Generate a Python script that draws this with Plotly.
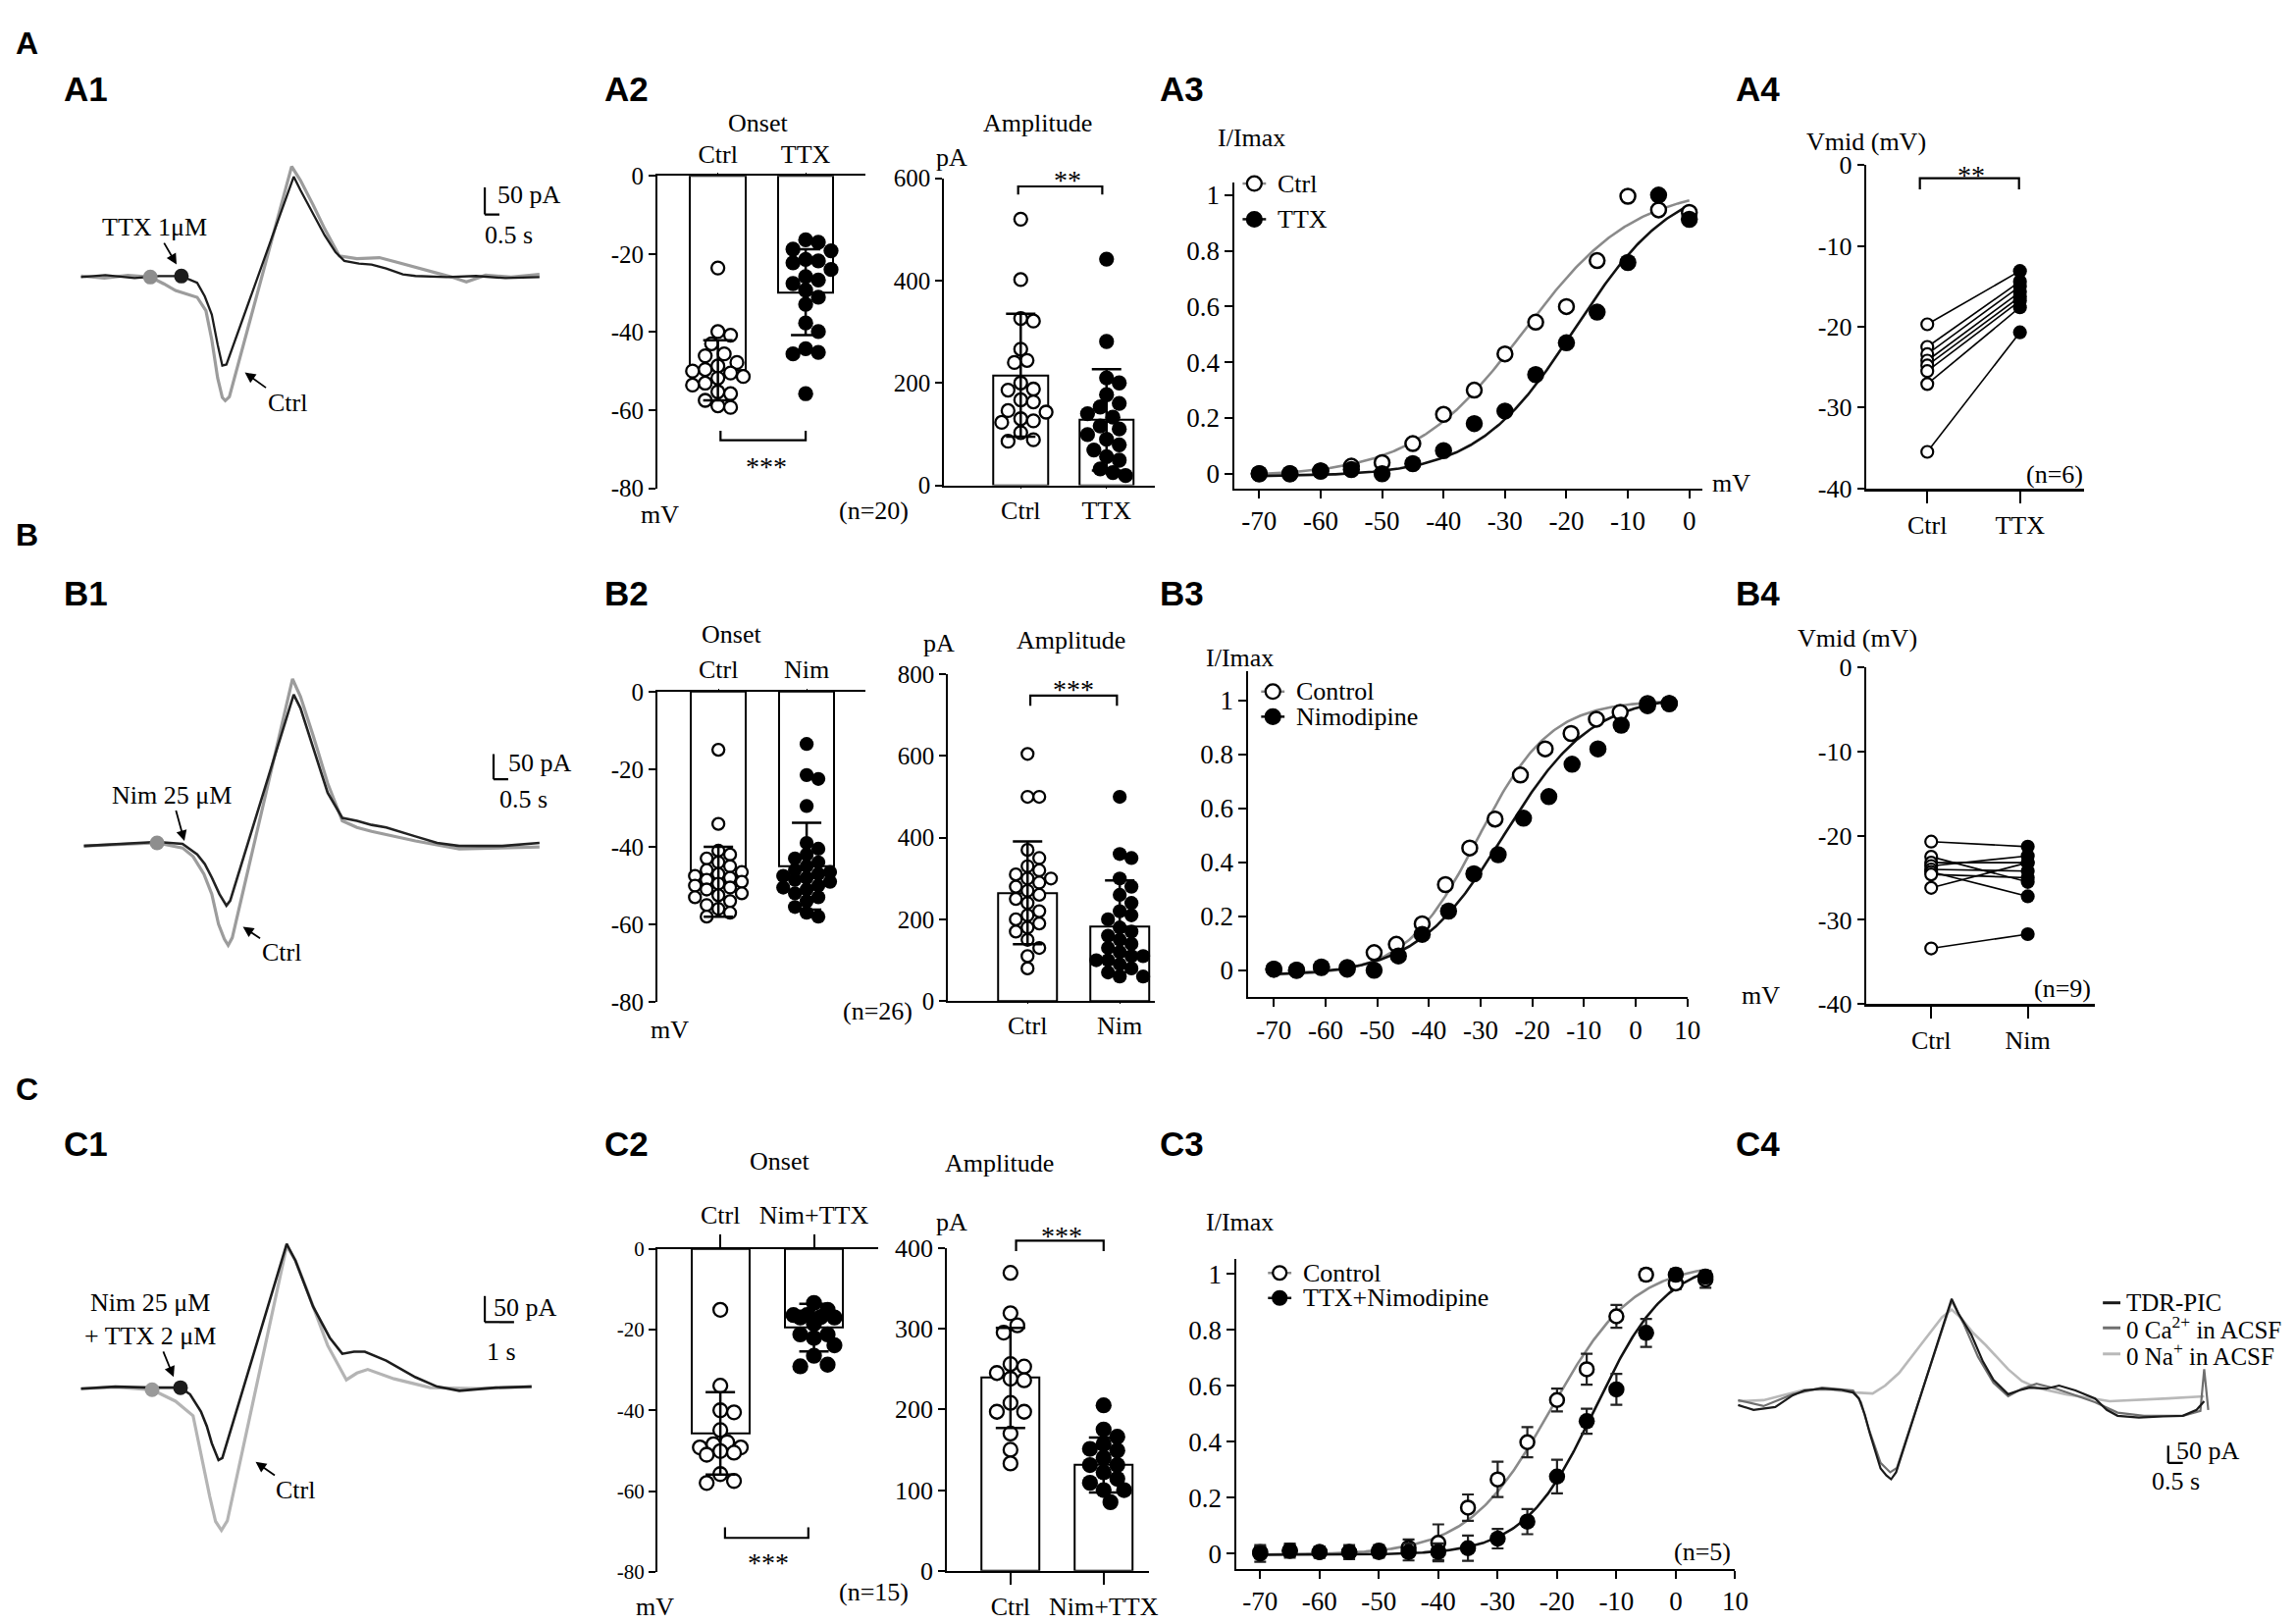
import numpy as np
import plotly.graph_objects as go

W, H = 2340, 1654
SERIF = "Liberation Serif, Times New Roman, serif"
SANS = "Liberation Sans, Arial, sans-serif"

# ======================= DATA =======================
# ---- A1: example traces (time s, current pA) ----
a1_ctrl_t = [0, 0.8, 1.6, 2.37, 2.83, 3.23, 3.97, 4.27, 4.47, 4.67, 4.83, 4.93, 5.07, 7.2, 7.5, 7.93,
             8.33, 8.83, 9.43, 10.2, 10.83, 11.83, 12.67, 13.17, 13.83, 14.7, 15.67]
a1_ctrl_i = [2, -2, 3, 0, -12.5, -25, -37.5, -62.5, -116, -187, -223, -229, -222, 205, 179, 134,
             89, 39, 34, 36, 27, 12.5, 0, -9, 3.6, 0, 5]
a1_ttx_t = [0, 0.83, 1.83, 2.67, 3.43, 3.97, 4.23, 4.47, 4.67, 4.83, 4.97, 7.27, 7.5, 7.93, 8.33,
            8.7, 9.0, 9.5, 9.93, 10.43, 11.0, 11.43, 12.5, 13.5, 14.5, 15.67]
a1_ttx_i = [0, 3.6, -1.8, 1.8, 1.8, -10.7, -35.7, -69.6, -125, -164, -162, 186, 161, 116, 77,
            46, 30, 25, 23, 16, 5, 2, 0, 2, -2, 0]
a1_ctrl_onset = [2.37, 0]
a1_ttx_onset = [3.43, 1.8]

# ---- A2: onset (mV) and amplitude (pA) ----
a2_groups = ["Ctrl", "TTX"]
a2_onset_ctrl = [-23.6, -39.9, -40.8, -43.0, -45.6, -46.1, -47.8, -48.7, -49.6, -50.0, -50.5, -51.4,
                 -51.8, -53.1, -53.6, -55.3, -55.8, -57.5, -58.9, -59.3]
a2_onset_ttx = [-16.4, -17.0, -18.8, -19.2, -21.4, -21.8, -22.3, -24.0, -25.8, -26.7, -27.6, -29.3,
                -31.1, -32.9, -37.7, -39.9, -44.3, -45.2, -45.6, -55.8]
a2_onset_mean = [-49.8, -29.8]
a2_onset_sd = [7.7, 11.0]
a2_amp_ctrl = [520, 402, 326, 321, 266, 244, 240, 200, 188, 186, 167, 163, 146, 143, 130, 126, 123,
               103, 89, 86]
a2_amp_ttx = [442, 281, 210, 200, 177, 160, 153, 140, 133, 116, 110, 99, 90, 79, 69, 56, 49, 32, 25, 19]
a2_amp_mean = [215, 128]
a2_amp_sd = [120, 99]

# ---- A3: activation (I/Imax vs mV) ----
a3_v = [-70, -65, -60, -55, -50, -45, -40, -35, -30, -25, -20, -15, -10, -5, 0]
a3_ctrl = [0.0, 0.0, 0.01, 0.027, 0.04, 0.108, 0.213, 0.30, 0.43, 0.544, 0.60, 0.765, 0.996, 0.947, 0.938]
a3_ttx = [0.0, 0.0, 0.01, 0.015, 0.0, 0.036, 0.083, 0.18, 0.225, 0.356, 0.47, 0.58, 0.758, 1.0, 0.913]
a3_fit_ctrl = [-27.0, 9.0, -0.01, 1.03]   # Vhalf, k, bottom, top
a3_fit_ttx = [-18.5, 8.0, -0.01, 1.06]

# ---- A4: Vmid pairs ----
a4_groups = ["Ctrl", "TTX"]
a4_ctrl = [-19.7, -22.5, -23.4, -24.2, -24.8, -25.5, -27.1, -35.5]
a4_ttx = [-13.1, -14.4, -15.0, -15.7, -16.3, -16.8, -17.6, -20.7]

# ---- B1 ----
b1_ctrl_t = [0, 1.2, 2.5, 3.37, 3.73, 4.1, 4.37, 4.6, 4.8, 4.93, 5.07, 7.13, 7.4, 7.83, 8.33, 8.83,
             9.33, 9.83, 10.57, 11.33, 12.83, 14.07, 15.57]
b1_ctrl_i = [-4, -1, 2, -8, -25, -60, -100, -160, -190, -202, -187, 329, 294, 217, 121, 46,
             33, 25, 15, 6, -10, -8, -6]
b1_nim_t = [0, 0.73, 1.73, 2.5, 3.37, 3.87, 4.13, 4.37, 4.63, 4.87, 5.0, 7.17, 7.4, 7.83, 8.33, 8.83,
            9.33, 9.83, 10.33, 11.33, 12.07, 12.83, 14.3, 15.57]
b1_nim_i = [-4, -2, 2, 4, 0, -21, -40, -67, -100, -123, -113, 298, 271, 192, 102, 52,
            46, 38, 33, 15, 2, -4, -4, 2]
b1_ctrl_onset = [2.5, 2]

# ---- B2 ----
b2_groups = ["Ctrl", "Nim"]
b2_onset_ctrl = [-15.0, -34.1, -41, -42, -43, -44, -45, -46, -46.5, -47, -47.5, -48, -48.5, -49, -49.5,
                 -50, -50.5, -51, -52, -52.5, -53, -54, -55, -56, -57, -58]
b2_onset_nim = [-13.5, -21.5, -22.5, -29.5, -39, -40.5, -42, -43, -44, -45, -46, -46.5, -47, -47.5, -48,
                -48.5, -49, -50, -50.5, -51, -52, -53, -54, -55.5, -57, -58]
b2_onset_mean = [-49.0, -45.0]
b2_onset_sd = [9.0, 11.2]
b2_amp_ctrl = [605, 500, 500, 370, 350, 330, 320, 310, 300, 300, 290, 280, 270, 260, 250, 240, 220, 210,
               200, 190, 180, 170, 150, 130, 110, 80]
b2_amp_nim = [500, 360, 350, 300, 280, 260, 240, 220, 210, 200, 180, 170, 160, 150, 140, 130, 120, 110,
              110, 100, 100, 90, 80, 70, 60, 60]
b2_amp_mean = [265, 183]
b2_amp_sd = [126, 112]

# ---- B3 ----
b3_ctrl_v = [-70, -65.6, -60.8, -55.8, -50.6, -46.3, -41.3, -36.8, -32.1, -27.2, -22.3, -17.5, -12.5,
             -7.6, -3.0, 2.3, 6.5]
b3_ctrl = [0.004, 0.0, 0.01, 0.01, 0.065, 0.096, 0.172, 0.317, 0.453, 0.56, 0.723, 0.82, 0.877, 0.93,
           0.955, 0.988, 0.988]
b3_nim_v = [-70, -65.6, -60.8, -55.8, -50.6, -45.9, -41.3, -36.2, -31.3, -26.6, -21.7, -16.8, -12.3,
            -7.3, -2.8, 2.3, 6.5]
b3_nim = [0.004, 0.0, 0.012, 0.004, 0.0, 0.053, 0.133, 0.219, 0.357, 0.428, 0.563, 0.643, 0.763, 0.82,
          0.908, 0.98, 0.988]
b3_fit_ctrl = [-30.5, 7.0, -0.02, 1.0]
b3_fit_nim = [-25.5, 8.5, -0.02, 1.02]

# ---- B4 ----
b4_groups = ["Ctrl", "Nim"]
b4_ctrl = [-20.7, -22.5, -23.2, -23.6, -24.0, -24.3, -24.6, -26.2, -33.4]
b4_nim = [-21.3, -25.5, -23.2, -22.4, -24.2, -27.2, -25.0, -23.2, -31.7]

# ---- C1 ----
c1_ctrl_t = [0, 1.2, 2.43, 3.23, 3.83, 4.2, 4.4, 4.6, 4.8, 5.0, 7.03, 7.33, 7.7, 8.43, 9.07, 9.43, 9.8,
             10.7, 11.93, 13.5, 15.4]
c1_ctrl_i = [-2, 1, -4, -26, -54, -156, -209, -257, -274, -256, 272, 244, 191, 81, 15, 28, 35,
             17, 0, -2, 2]
c1_nt_t = [0, 1.17, 2.43, 3.4, 3.73, 4.1, 4.3, 4.47, 4.7, 4.83, 7.03, 7.33, 7.93, 8.5, 8.93, 9.33, 9.7,
           10.43, 11.43, 12.17, 12.93, 14.17, 15.4]
c1_nt_i = [-2, 2, 0, 0, -13, -46, -74, -107, -139, -135, 276, 244, 156, 96, 65, 69, 69,
           52, 20, 2, -6, 0, 2]
c1_ctrl_onset = [2.43, -4]
c1_nt_onset = [3.4, 0]

# ---- C2 ----
c2_groups = ["Ctrl", "Nim+TTX"]
c2_onset_ctrl = [-15.1, -33.9, -40.0, -40.5, -44.9, -47.9, -48.4, -49.2, -49.2, -50.1, -50.5, -51.0,
                 -55.8, -57.5, -58.0]
c2_onset_nt = [-13.4, -15.1, -16.4, -16.4, -16.9, -17.0, -17.0, -18.6, -21.2, -21.2, -22.1, -23.9,
               -26.5, -28.7, -29.1]
c2_onset_mean = [-45.7, -19.5]
c2_onset_sd = [10.2, 5.9]
c2_amp_ctrl = [369, 319, 304, 295, 256, 253, 245, 238, 236, 208, 197, 197, 170, 150, 133]
c2_amp_nt = [205, 175, 166, 157, 151, 149, 140, 131, 131, 122, 114, 109, 100, 100, 85]
c2_amp_mean = [239, 131]
c2_amp_sd = [62, 34]

# ---- C3 ----
c3_v = [-70, -65, -60, -55, -50, -45, -40, -35, -30, -25, -20, -15, -10, -5, 0, 5]
c3_ctrl = [0.005, 0.01, 0.005, 0.005, 0.01, 0.02, 0.038, 0.164, 0.265, 0.398, 0.549, 0.659, 0.848,
           0.997, 0.966, 0.98]
c3_ctrl_err = [0.02, 0.02, 0.02, 0.02, 0.02, 0.03, 0.066, 0.047, 0.063, 0.054, 0.041, 0.055, 0.041,
               0.02, 0.02, 0.03]
c3_nt = [0.0, 0.01, 0.005, 0.005, 0.005, 0.005, 0.006, 0.019, 0.053, 0.114, 0.275, 0.473, 0.587, 0.789,
         0.997, 0.99]
c3_nt_err = [0.03, 0.025, 0.02, 0.025, 0.02, 0.03, 0.03, 0.045, 0.035, 0.045, 0.06, 0.045, 0.055, 0.05,
             0.02, 0.02]
c3_fit_ctrl = [-21.0, 7.0, -0.005, 1.04]
c3_fit_nt = [-13.5, 6.0, -0.005, 1.05]

# ---- C4: example traces ----
c4_pic_t = [0, 0.53, 1.27, 1.87, 2.27, 2.87, 3.5, 3.93, 4.13, 4.33, 4.5, 4.7, 4.87, 5.07, 5.23, 5.4,
            7.3, 7.53, 7.97, 8.37, 8.73, 9.23, 9.6, 9.97, 10.53, 10.97, 11.53, 12.2, 12.6, 12.97,
            13.7, 14.53, 15.2, 15.67, 15.93]
c4_pic_i = [0, -14, -6, 28, 42, 47, 44, 36, 19, -28, -81, -139, -183, -203, -214, -194,
            306, 264, 203, 125, 72, 31, 42, 50, 47, 56, 42, 19, -14, -31,
            -36, -33, -31, -14, 11]
c4_ca_t = [0, 0.87, 1.87, 2.87, 3.93, 4.2, 4.47, 4.87, 5.2, 5.43, 7.3, 7.7, 8.2, 8.73, 9.23, 9.7, 10.2,
           10.87, 11.53, 12.2, 12.97, 13.87, 15.2, 15.8, 15.93, 16.07]
c4_ca_i = [14, -3, 31, 50, 42, 8, -69, -167, -194, -181, 300, 236, 139, 64, 25, 47, 61,
           47, 28, 8, -22, -31, -31, -17, 103, -14]
c4_na_t = [0, 0.87, 2.27, 3.2, 4.0, 4.6, 5.03, 5.5, 6.23, 6.97, 7.3, 7.63, 8.03, 8.47, 9.23, 9.7, 10.2,
           11.2, 12.7, 13.7, 14.7, 15.93]
c4_na_i = [11, 14, 44, 44, 36, 33, 56, 92, 172, 253, 275, 250, 208, 172, 103, 69, 50,
           31, 11, 14, 19, 25]
c4_names = ["TDR-PIC", "0 Ca<sup>2+</sup> in ACSF", "0 Na<sup>+</sup> in ACSF"]

# ======================= FIGURE =======================
fig = go.Figure()
shapes, anns = [], []


def dom_x(a, b):
    return [a / W, b / W]


def dom_y(top, bot):
    return [1 - bot / H, 1 - top / H]


def lin(v0, p0, v1, p1, pa, pb):
    s = (v1 - v0) / (p1 - p0)
    return [v0 + (pa - p0) * s, v0 + (pb - p0) * s]


def to_px(m, v):
    return m[1] + (v - m[0]) * (m[3] - m[1]) / (m[2] - m[0])


def tf(size):
    return dict(family=SERIF, size=size, color="black")


BASE = dict(showgrid=False, zeroline=False, showline=True, linecolor="black", linewidth=2,
            ticks="outside", ticklen=7, tickwidth=2, tickcolor="black", tickfont=tf(25))


def set_axes(n, xmap, xdom, ymap, ydom, xs=None, ys=None):
    s = "" if n == 1 else str(n)
    xa = dict(BASE)
    xa.update(domain=dom_x(*xdom), range=lin(*xmap, xdom[0], xdom[1]), anchor="y" + s)
    ya = dict(BASE)
    ya.update(domain=dom_y(*ydom), range=lin(*ymap, ydom[1], ydom[0]), anchor="x" + s)
    if xs:
        xa.update(xs)
    if ys:
        ya.update(ys)
    fig.update_layout(**{"xaxis" + s: xa, "yaxis" + s: ya})
    ppx = abs((xmap[3] - xmap[1]) / (xmap[2] - xmap[0]))
    ppy = abs((ymap[3] - ymap[1]) / (ymap[2] - ymap[0]))
    return dict(x="x" + s, y="y" + s, ppx=ppx, ppy=ppy, xm=xmap, ym=ymap)


def swarm(vals, ppy, d, step, maxoff):
    cands = [0.0]
    k = 1
    while k * step <= maxoff + 1e-9:
        cands += [k * step, -k * step]
        k += 1
    placed, offs = [], []
    for v in vals:
        y = v * ppy
        chosen = None
        for c in cands:
            if all((c - px) ** 2 + (y - py) ** 2 >= d * d for px, py in placed):
                chosen = c
                break
        if chosen is None:
            chosen = max(cands, key=lambda c: min((c - px) ** 2 + (y - py) ** 2 for px, py in placed))
        placed.append((chosen, y))
        offs.append(chosen)
    return offs


def marker(filled, size, lw=2.3):
    if filled:
        return dict(symbol="circle", size=size + lw, color="black", line=dict(width=0))
    return dict(symbol="circle", size=size, color="white", line=dict(color="black", width=lw))


def add_bars(ax, means, barw):
    fig.add_trace(go.Bar(x=list(range(len(means))), y=means, width=barw, xaxis=ax["x"], yaxis=ax["y"],
                         marker=dict(color="white", line=dict(color="black", width=2)),
                         showlegend=False, hoverinfo="skip"))


def add_dots(ax, xc, vals, filled, size, maxoff=26):
    offs = swarm(vals, ax["ppy"], size, size * 0.5, maxoff)
    fig.add_trace(go.Scatter(x=[xc + o / ax["ppx"] for o in offs], y=vals, mode="markers",
                             xaxis=ax["x"], yaxis=ax["y"], showlegend=False, cliponaxis=False,
                             marker=marker(filled, size)))


def add_err(ax, means, sds, cap=15):
    fig.add_trace(go.Scatter(x=list(range(len(means))), y=means, mode="markers", xaxis=ax["x"], yaxis=ax["y"],
                             marker=dict(size=1, color="black"), showlegend=False,
                             error_y=dict(type="data", array=sds, color="black", thickness=2.5, width=cap)))


def boltz(v, p):
    vh, k, lo, hi = p
    return lo + (hi - lo) / (1 + np.exp((vh - v) / k))


def txt(s, x, y, size=26, anchor="center", family=SERIF):
    anns.append(dict(text=s, x=x / W, y=1 - y / H, xref="paper", yref="paper", showarrow=False,
                     xanchor=anchor, yanchor="middle",
                     font=dict(family=family, size=size, color="black")))


def stars(s, x, y, size=28):
    txt(s, x, y + 0.26 * size, size)


def label_arrow(s, tx, ty, hx, hy, size=26):
    # text centred at (tx, ty) with an arrow pointing at (hx, hy)
    anns.append(dict(text=s, x=hx / W, y=1 - hy / H, xref="paper", yref="paper", showarrow=True,
                     ax=tx - hx, ay=ty - hy, axref="pixel", ayref="pixel", arrowhead=2,
                     arrowsize=1.2, arrowwidth=1.8, arrowcolor="black", standoff=0,
                     font=dict(family=SERIF, size=size, color="black")))


def bracket(ax, x0, x1, yend, ybar):
    X0, X1 = to_px(ax["xm"], x0) / W, to_px(ax["xm"], x1) / W
    YE, YB = 1 - to_px(ax["ym"], yend) / H, 1 - to_px(ax["ym"], ybar) / H
    shapes.append(dict(type="path", xref="paper", yref="paper",
                       path=f"M{X0},{YE} L{X0},{YB} L{X1},{YB} L{X1},{YE}",
                       line=dict(color="black", width=2.2)))


def scalebar(ax, t0, i0, dt, di):
    ln = dict(color="black", width=2.2)
    shapes.append(dict(type="line", xref=ax["x"], yref=ax["y"], x0=t0, x1=t0, y0=i0, y1=i0 + di, line=ln))
    shapes.append(dict(type="line", xref=ax["x"], yref=ax["y"], x0=t0, x1=t0 + dt, y0=i0, y1=i0, line=ln))


def leg_item(xc, yc, text, lcolor, filled, size=14, half=12, tsize=26, tx=22, lw=2.5):
    shapes.append(dict(type="line", xref="paper", yref="paper", x0=(xc - half) / W, x1=(xc + half) / W,
                       y0=1 - yc / H, y1=1 - yc / H, line=dict(color=lcolor, width=lw)))
    if filled is not None:
        r = size / 2
        shapes.append(dict(type="circle", xref="paper", yref="paper", x0=(xc - r) / W, x1=(xc + r) / W,
                           y0=1 - (yc + r) / H, y1=1 - (yc - r) / H,
                           fillcolor="black" if filled else "white", line=dict(color="black", width=2.3)))
    txt(text, xc + tx, yc, tsize, anchor="left")


def trace_line(ax, t, i, color, width):
    fig.add_trace(go.Scatter(x=t, y=i, mode="lines", xaxis=ax["x"], yaxis=ax["y"], showlegend=False,
                             line=dict(color=color, width=width), hoverinfo="skip"))


def onset_dot(ax, pt, color):
    fig.add_trace(go.Scatter(x=[pt[0]], y=[pt[1]], mode="markers", xaxis=ax["x"], yaxis=ax["y"],
                             showlegend=False, marker=dict(size=15, color=color)))


def pairs(ax, c, t, size=12):
    xs, ys = [], []
    for a, b in zip(c, t):
        xs += [0, 1, None]
        ys += [a, b, None]
    fig.add_trace(go.Scatter(x=xs, y=ys, mode="lines", xaxis=ax["x"], yaxis=ax["y"], showlegend=False,
                             line=dict(color="black", width=1.6)))
    fig.add_trace(go.Scatter(x=[0] * len(c), y=c, mode="markers", xaxis=ax["x"], yaxis=ax["y"],
                             showlegend=False, cliponaxis=False, marker=marker(False, size, 2.2)))
    fig.add_trace(go.Scatter(x=[1] * len(t), y=t, mode="markers", xaxis=ax["x"], yaxis=ax["y"],
                             showlegend=False, cliponaxis=False, marker=marker(True, size, 2.2)))


def iv_panel(ax, v1, y1, v2, y2, fit1, fit2, vmax, e1=None, e2=None, size=15, cap=0):
    vv = np.linspace(-70, vmax, 300)
    fig.add_trace(go.Scatter(x=vv, y=boltz(vv, fit1), mode="lines", xaxis=ax["x"], yaxis=ax["y"],
                             showlegend=False, line=dict(color="#8a8a8a", width=2.6)))
    fig.add_trace(go.Scatter(x=vv, y=boltz(vv, fit2), mode="lines", xaxis=ax["x"], yaxis=ax["y"],
                             showlegend=False, line=dict(color="#111111", width=2.6)))
    err1 = dict(type="data", array=e1, color="#222", thickness=2.2, width=cap) if e1 else None
    err2 = dict(type="data", array=e2, color="#222", thickness=2.2, width=cap) if e2 else None
    fig.add_trace(go.Scatter(x=v1, y=y1, mode="markers", xaxis=ax["x"], yaxis=ax["y"], showlegend=False,
                             cliponaxis=False, marker=marker(False, size, 2.5), error_y=err1))
    fig.add_trace(go.Scatter(x=v2, y=y2, mode="markers", xaxis=ax["x"], yaxis=ax["y"], showlegend=False,
                             cliponaxis=False, marker=marker(True, size, 2.5), error_y=err2))


HIDE = dict(showline=False, showticklabels=False, ticks="", showgrid=False, zeroline=False)
ONSET_Y = dict(tickvals=[0, -20, -40, -60, -80], ticktext=["0", "-20", "-40", "-60", "-80"])
IV_X = dict(tickvals=list(range(-70, 1, 10)), ticktext=[str(v) for v in range(-70, 1, 10)],
            tickfont=tf(27), ticklen=8)
IV_X10 = dict(tickvals=list(range(-70, 11, 10)), ticktext=[str(v) for v in range(-70, 11, 10)],
              tickfont=tf(27), ticklen=8)
IV_Y = dict(tickvals=[0, 0.2, 0.4, 0.6, 0.8, 1], ticktext=["0", "0.2", "0.4", "0.6", "0.8", "1"],
            tickfont=tf(27), ticklen=8)
VMID_Y = dict(tickvals=[0, -10, -20, -30, -40], ticktext=["0", "-10", "-20", "-30", "-40"], tickfont=tf(26))


def cat_top(groups, ticks=False, size=26):
    return dict(side="top", tickvals=list(range(len(groups))), ticktext=groups,
                ticks="outside", ticklen=13 if ticks else 1, tickwidth=2 if ticks else 0.01,
                tickfont=tf(size))


def cat_bot(groups, ticks=False, size=26, lw=2):
    return dict(tickvals=list(range(len(groups))), ticktext=groups, ticks="outside",
                ticklen=12 if ticks else 1, tickwidth=2 if ticks else 0.01,
                tickfont=tf(size), linewidth=lw)


# ---------------- Row A ----------------
ax = set_axes(1, (0, 75, 1, 105), (60, 560), (0, 265, 100, 209), (120, 420), HIDE, HIDE)
trace_line(ax, a1_ctrl_t, a1_ctrl_i, "#9c9c9c", 3.2)
trace_line(ax, a1_ttx_t, a1_ttx_i, "#1c1c1c", 2.3)
onset_dot(ax, a1_ctrl_onset, "#8e8e8e")
onset_dot(ax, a1_ttx_onset, "#1c1c1c")
scalebar(ax, 13.8, 116, 0.5, 50)

ax = set_axes(2, (0, 728, 1, 818), (666, 879), (0, 160, -80, 484), (160, 484), cat_top(a2_groups), ONSET_Y)
add_bars(ax, a2_onset_mean, 0.63)
add_dots(ax, 0, a2_onset_ctrl, False, 13)
add_dots(ax, 1, a2_onset_ttx, True, 13)
add_err(ax, a2_onset_mean, a2_onset_sd)
bracket(ax, 0.03, 1.0, -65.3, -67.7)

ax = set_axes(3, (0, 1038.5, 1, 1126.5), (960, 1176), (0, 481, 600, 162.5), (162.5, 481),
              cat_bot(a2_groups), dict(tickvals=[0, 200, 400, 600], ticktext=["0", "200", "400", "600"]))
add_bars(ax, a2_amp_mean, 0.63)
add_dots(ax, 0, a2_amp_ctrl, False, 13)
add_dots(ax, 1, a2_amp_ttx, True, 13)
add_err(ax, a2_amp_mean, a2_amp_sd)
bracket(ax, -0.03, 0.95, 568, 584)

ax = set_axes(4, (-70, 1283, 0, 1724), (1258, 1737), (0, 469, 1, 180), (167, 484), IV_X, IV_Y)
iv_panel(ax, a3_v, a3_ctrl, a3_v, a3_ttx, a3_fit_ctrl, a3_fit_ttx, 0)

ax = set_axes(5, (0, 1968, 1, 2063), (1905, 2129), (0, 149, -40, 484), (149, 484),
              cat_bot(a4_groups, True, 26, 3), VMID_Y)
pairs(ax, a4_ctrl, a4_ttx)
bracket(ax, -0.08, 0.99, -3.0, -1.6)

# ---------------- Row B ----------------
ax = set_axes(6, (0, 78, 1, 108), (60, 560), (0, 853, 100, 801), (640, 990), HIDE, HIDE)
trace_line(ax, b1_ctrl_t, b1_ctrl_i, "#9c9c9c", 3.2)
trace_line(ax, b1_nim_t, b1_nim_i, "#222222", 2.6)
onset_dot(ax, b1_ctrl_onset, "#8e8e8e")
scalebar(ax, 14.0, 129, 0.5, 50)

ax = set_axes(7, (0, 728.5, 1, 819), (666, 879), (0, 695, -80, 1017), (695, 1017), cat_top(b2_groups), ONSET_Y)
add_bars(ax, b2_onset_mean, 0.63)
add_dots(ax, 0, b2_onset_ctrl, False, 12, 27)
add_dots(ax, 1, b2_onset_nim, True, 12, 27)
add_err(ax, b2_onset_mean, b2_onset_sd)

ax = set_axes(8, (0, 1045.5, 1, 1140), (964, 1176), (0, 1016, 800, 677), (677, 1016),
              cat_bot(b2_groups),
              dict(tickvals=[0, 200, 400, 600, 800], ticktext=["0", "200", "400", "600", "800"]))
add_bars(ax, b2_amp_mean, 0.63)
add_dots(ax, 0, b2_amp_ctrl, False, 12, 27)
add_dots(ax, 1, b2_amp_nim, True, 12, 27)
add_err(ax, b2_amp_mean, b2_amp_sd)
bracket(ax, 0.03, 0.97, 723, 748)

ax = set_axes(9, (-70, 1298, 10, 1722), (1272, 1722), (0, 984, 1, 704), (674, 1012), IV_X10, IV_Y)
iv_panel(ax, b3_ctrl_v, b3_ctrl, b3_nim_v, b3_nim, b3_fit_ctrl, b3_fit_nim, 7)

ax = set_axes(10, (0, 1972, 1, 2071), (1905, 2140), (0, 670, -40, 1019), (670, 1019),
              cat_bot(b4_groups, True, 26, 3), VMID_Y)
pairs(ax, b4_ctrl, b4_nim)

# ---------------- Row C ----------------
ax = set_axes(11, (0, 75, 1, 105), (60, 560), (0, 1417, 100, 1363), (1220, 1600), HIDE, HIDE)
trace_line(ax, c1_ctrl_t, c1_ctrl_i, "#b4b4b4", 3.2)
trace_line(ax, c1_nt_t, c1_nt_i, "#1c1c1c", 2.6)
onset_dot(ax, c1_ctrl_onset, "#9a9a9a")
onset_dot(ax, c1_nt_onset, "#1c1c1c")
scalebar(ax, 13.8, 126, 1.0, 50)

ax = set_axes(12, (0, 730.5, 1, 826.5), (666, 892), (0, 1273, -80, 1608), (1273, 1608),
              cat_top(c2_groups, True), dict(ONSET_Y, tickfont=tf(21)))
add_bars(ax, c2_onset_mean, 0.62)
add_dots(ax, 0, c2_onset_ctrl, False, 14)
add_dots(ax, 1, c2_onset_nt, True, 14)
add_err(ax, c2_onset_mean, c2_onset_sd)
bracket(ax, 0.05, 0.94, -69.0, -71.6)

ax = set_axes(13, (0, 1028, 1, 1123.5), (963, 1170), (0, 1607, 400, 1272), (1272, 1607),
              cat_bot(c2_groups, True),
              dict(tickvals=[0, 100, 200, 300, 400], ticktext=["0", "100", "200", "300", "400"], tickfont=tf(26)))
add_bars(ax, c2_amp_mean, 0.62)
add_dots(ax, 0, c2_amp_ctrl, False, 14)
add_dots(ax, 1, c2_amp_nt, True, 14)
add_err(ax, c2_amp_mean, c2_amp_sd)
bracket(ax, 0.06, 1.0, 396, 409)

ax = set_axes(14, (-70, 1284, 10, 1771), (1260, 1771), (0, 1589, 1, 1299), (1283, 1605), IV_X10, IV_Y)
iv_panel(ax, c3_v, c3_ctrl, c3_v, c3_nt, c3_fit_ctrl, c3_fit_nt, 5, c3_ctrl_err, c3_nt_err, 14, 6)

ax = set_axes(15, (0, 1774, 1, 1804), (1760, 2280), (0, 1435, 100, 1399), (1280, 1540), HIDE, HIDE)
trace_line(ax, c4_na_t, c4_na_i, "#b9b9b9", 2.6)
trace_line(ax, c4_ca_t, c4_ca_i, "#6f6f6f", 2.2)
trace_line(ax, c4_pic_t, c4_pic_i, "#1a1a1a", 2.2)
scalebar(ax, 14.7, -167, 0.5, 50)

# ---------------- Text ----------------
for s, x, y in [("A", 20, 22), ("B", 20, 532), ("C", 20, 1107)]:
    txt("<b>%s</b>" % s, x, y, 32, family=SANS)
for s, x, y in [("A1", 80, 70), ("A2", 634, 70), ("A3", 1204, 70), ("A4", 1794, 70),
                ("B1", 80, 593), ("B2", 634, 593), ("B3", 1204, 593), ("B4", 1794, 593),
                ("C1", 80, 1164), ("C2", 634, 1164), ("C3", 1204, 1164), ("C4", 1794, 1164)]:
    txt("<b>%s</b>" % s, x, y, 35, family=SANS)

# A
label_arrow("TTX 1μM", 151, 214, 173, 252)
label_arrow("Ctrl", 286, 395, 243, 364)
txt("50 pA", 500, 180, anchor="left")
txt("0.5 s", 514, 221)
txt("Onset", 769, 105)
txt("Amplitude", 1056, 105)
txt("pA", 968, 141)
txt("mV", 668, 511)
txt("(n=20)", 888, 507)
stars("***", 778, 454)
stars("**", 1086, 157)
txt("I/Imax", 1275, 121)
txt("mV", 1767, 479)
txt("Vmid (mV)", 1905, 125)
stars("**", 2013, 152)
txt("(n=6)", 2099, 470)
leg_item(1278, 168, "Ctrl", "#8a8a8a", False, 15)
leg_item(1278, 205, "TTX", "#111111", True, 15)

# B
label_arrow("Nim 25 μM", 168, 803, 181, 850)
label_arrow("Ctrl", 280, 965, 241, 939)
txt("50 pA", 511, 769, anchor="left")
txt("0.5 s", 529, 807)
txt("Onset", 742, 636)
txt("Amplitude", 1090, 642)
txt("pA", 955, 645)
txt("mV", 679, 1046)
txt("(n=26)", 892, 1027)
stars("***", 1093, 685)
txt("I/Imax", 1263, 660)
txt("mV", 1797, 1010)
txt("Vmid (mV)", 1896, 640)
txt("(n=9)", 2107, 1003)
leg_item(1297, 695, "Control", "#8a8a8a", False, 15)
leg_item(1297, 721, "Nimodipine", "#111111", True, 15)

# C
label_arrow("Nim 25 μM<br>+ TTX 2 μM", 146, 1347, 170, 1406)
label_arrow("Ctrl", 295, 1523, 254, 1494)
txt("50 pA", 496, 1334, anchor="left")
txt("1 s", 506, 1380)
txt("Onset", 791, 1182)
txt("Amplitude", 1017, 1184)
txt("pA", 968, 1245)
txt("mV", 663, 1644)
txt("(n=15)", 888, 1629)
stars("***", 780, 1591)
stars("***", 1080, 1252)
txt("I/Imax", 1263, 1245)
txt("(n=5)", 1737, 1587)
leg_item(1304, 1298, "Control", "#8a8a8a", False, 14)
leg_item(1304, 1324, "TTX+Nimodipine", "#111111", True, 14)
for name, col, y in zip(c4_names, ["#1a1a1a", "#6f6f6f", "#b9b9b9"], [1329, 1355, 1382]):
    leg_item(2157, y, name, col, None, half=9, tsize=25, tx=13, lw=3)
txt("50 pA", 2221, 1483, 26, anchor="left")
txt("0.5 s", 2223, 1514, 26)

fig.update_layout(width=W, height=H, margin=dict(l=0, r=0, t=0, b=0), paper_bgcolor="white",
                  plot_bgcolor="rgba(0,0,0,0)", showlegend=False, shapes=shapes, annotations=anns,
                  bargap=0)
fig.write_html("out.html")
